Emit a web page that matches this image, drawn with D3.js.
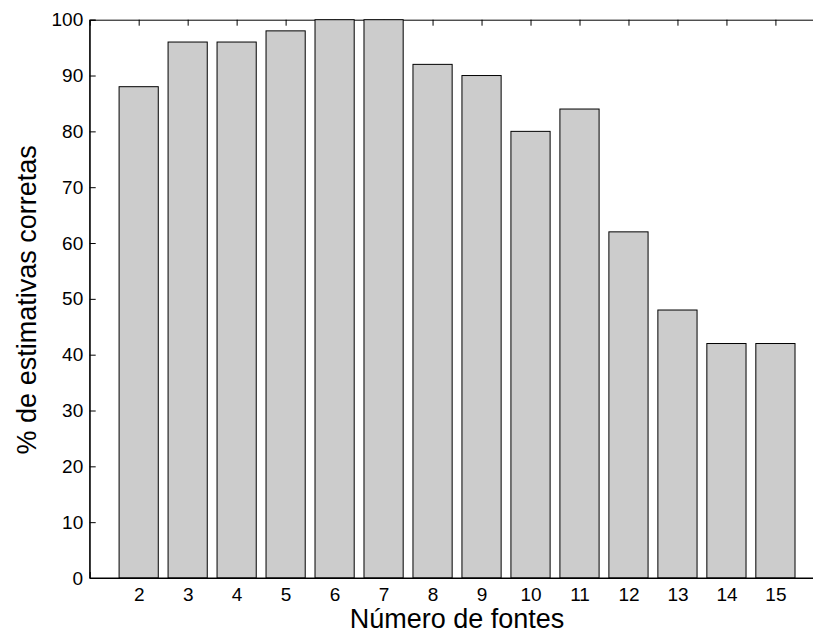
<!DOCTYPE html>
<html>
<head>
<meta charset="utf-8">
<script src="https://cdn.jsdelivr.net/npm/d3@7/dist/d3.min.js"></script>
<style>
  html, body { margin: 0; padding: 0; background: #fff; }
  svg { display: block; }
  text { font-family: "Liberation Sans", Arial, Helvetica, sans-serif; fill: #000; }
</style>
</head>
<body>
<svg id="chart" width="813" height="634"></svg>
<script>
// Number of sources vs. percentage of correct estimates
const categories = [2, 3, 4, 5, 6, 7, 8, 9, 10, 11, 12, 13, 14, 15];
const values = [88, 96, 96, 98, 100, 100, 92, 90, 80, 84, 62, 48, 42, 42];
const yTicks = [0, 10, 20, 30, 40, 50, 60, 70, 80, 90, 100];
const xLabel = "Número de fontes";
const yLabel = "% de estimativas corretas";

const W = 813, H = 634;
const plotLeft = 89.7, plotTop = 19.7, plotBottom = 578;
const barWidth = 0.8;

const svg = d3.select("#chart");

// x runs from 1 to 16 in category units; the right end falls past the frame
const x = d3.scaleLinear().domain([1, 16]).range([plotLeft, plotLeft + 15 * 48.98]);
const y = d3.scaleLinear().domain([0, 100]).range([plotBottom, plotTop]);

// y axis: inward ticks
const yAxis = svg.append("g")
  .attr("transform", `translate(${plotLeft},0)`)
  .call(d3.axisLeft(y).tickValues(yTicks).tickSize(-6).tickPadding(6.5).tickFormat(d3.format("d")));
yAxis.selectAll("text").style("font-size", "19px");

// top frame with inward ticks
const topAxis = svg.append("g")
  .attr("transform", `translate(0,${plotTop})`)
  .call(d3.axisTop(x).tickValues(categories).tickSize(-6).tickFormat(""));

// bottom axis, labels under each bar
const xAxis = svg.append("g")
  .attr("transform", `translate(0,${plotBottom})`)
  .call(d3.axisBottom(x).tickValues(categories).tickSize(-6).tickPadding(9.5).tickFormat(d3.format("d")));
xAxis.selectAll("text").style("font-size", "19px");

[yAxis, topAxis, xAxis].forEach(g => {
  g.selectAll("path.domain").attr("stroke", "#000").attr("stroke-width", 1);
  g.selectAll(".tick line").attr("stroke", "#000").attr("stroke-width", 1);
  g.attr("font-family", null).attr("font-size", null);
});

// bars
svg.append("g")
  .selectAll("rect")
  .data(categories.map((c, i) => ({ c, v: values[i] })))
  .join("rect")
  .attr("x", d => x(d.c - barWidth / 2))
  .attr("width", d => x(d.c + barWidth / 2) - x(d.c - barWidth / 2))
  .attr("y", d => y(d.v))
  .attr("height", d => y(0) - y(d.v))
  .attr("fill", "#cccccc")
  .attr("stroke", "#000")
  .attr("stroke-width", 1);

// redraw the baseline and left edge over the bars
svg.append("line")
  .attr("x1", plotLeft).attr("x2", W).attr("y1", plotBottom).attr("y2", plotBottom)
  .attr("stroke", "#000").attr("stroke-width", 1);
svg.append("line")
  .attr("x1", plotLeft).attr("x2", plotLeft).attr("y1", plotTop).attr("y2", plotBottom)
  .attr("stroke", "#000").attr("stroke-width", 1);

// axis titles
svg.append("text")
  .attr("x", (x(1) + x(16)) / 2)
  .attr("y", 628)
  .attr("text-anchor", "middle")
  .style("font-size", "27px")
  .text(xLabel);

svg.append("text")
  .attr("transform", `translate(36,${(plotTop + plotBottom) / 2 + 1}) rotate(-90)`)
  .attr("text-anchor", "middle")
  .style("font-size", "27px")
  .text(yLabel);
</script>
</body>
</html>
